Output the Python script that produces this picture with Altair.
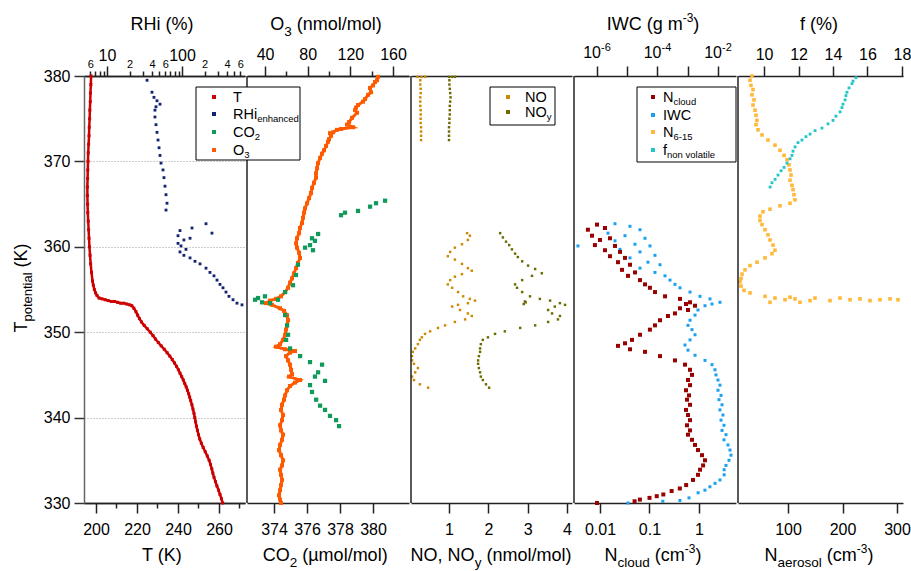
import altair as alt
import pandas as pd
import math

FONT = "Liberation Sans"
X0, Y0 = 84, 76          # page position of plot origin
W, H = 819, 427          # plot area

# ---------------- data (potential temperature in K) ----------------
theta_T = [380.0,379.0,378.0,377.0,376.0,375.0,374.0,373.0,372.0,371.0,370.0,369.0,368.0,367.0,366.0,365.0,364.0,363.0,362.0,361.0,360.0,359.0,358.0,357.0,356.0,355.5,355.0,354.6,354.3,354.0,353.9,353.8,353.7,353.6,353.6,353.5,353.4,353.4,353.3,353.2,353.1,352.8,352.4,352.0,351.6,351.2,350.8,350.4,350.0,349.6,349.2,348.8,348.4,348.0,347.6,347.2,346.8,346.4,346.0,345.6,345.2,344.8,344.4,344.0,343.6,343.2,342.8,342.4,342.0,341.5,341.0,340.5,340.0,339.5,339.0,338.5,338.0,337.5,337.0,336.5,336.0,335.5,335.0,334.5,334.0,333.5,333.0,332.5,332.0,331.5,331.0,330.5,330.0]
T_K = [197.6,197.5,197.3,197.2,197.0,196.9,196.7,196.6,196.4,196.2,196.1,196.0,195.9,195.8,195.8,195.9,196.0,196.2,196.4,196.6,196.8,197.1,197.4,197.8,198.3,198.7,199.2,199.8,200.5,201.5,203.0,204.5,206.0,207.5,209.0,210.5,212.0,213.5,215.0,216.5,217.5,218.5,219.5,220.3,221.2,222.2,223.5,225.0,226.5,227.8,229.0,230.4,231.8,233.3,234.7,236.0,237.2,238.3,239.3,240.2,241.0,241.8,242.6,243.3,244.0,244.6,245.2,245.7,246.2,246.8,247.3,247.8,248.2,248.6,249.0,249.5,250.0,250.6,251.4,252.3,253.3,254.3,255.2,255.9,256.5,257.0,257.6,258.3,259.0,259.8,260.5,261.2,261.8]

theta_RHi = [379.5,378.1,377.5,377.1,376.7,376.4,376.0,375.2,374.3,373.4,372.5,371.6,370.7,369.8,369.0,368.1,367.1,366.1,365.1,364.3,362.7,362.2,361.9,361.6,361.3,361.0,360.8,360.4,360.1,359.7,359.4,359.0,358.7,358.3,358.0,357.5,357.0,356.6,356.1,355.6,355.2,354.7,354.2,353.8,353.4,353.2]
RHi = [34.2,39.8,42.3,46.4,50.9,45.0,43.6,43.6,45.0,46.4,47.9,49.4,50.9,52.5,55.8,57.5,59.3,61.2,63.1,61.2,209,136,94,251,88.5,128,106,88.5,97,113,94,106,128,149,174,209,236,267,293,321,352,386,423,479,541,631]

theta_O3 = [379.9,379.5,379.3,378.9,378.6,378.1,377.8,377.3,377.0,376.6,376.3,376.0,375.7,375.1,374.6,374.3,374.0,373.8,373.7,373.4,373.3,373.0,372.6,372.3,371.8,371.3,370.9,370.4,369.8,369.2,368.6,368.1,367.5,366.9,366.3,365.7,365.1,364.5,364.0,363.4,362.8,362.2,361.6,361.0,360.4,359.9,359.3,358.7,358.1,357.5,356.9,356.3,355.8,355.2,354.7,354.2,353.9,353.7,353.4,353.2,352.8,352.5,352.0,351.4,350.8,350.3,349.7,349.1,348.6,348.3,348.0,347.8,347.6,347.2,346.7,346.2,345.6,345.1,344.8,344.4,344.1,343.7,343.2,342.6,342.1,341.5,340.9,340.3,339.7,339.1,338.5,338.0,337.4,336.8,336.2,335.6,335.0,334.4,333.9,333.3,332.7,332.1,331.5,330.9,330.4,330.0]
O3 = [145.9,145.0,143.1,141.3,138.4,139.4,136.6,133.8,131.9,127.2,125.3,124.4,126.3,121.6,118.8,116.9,122.5,111.3,107.5,103.8,100.9,101.9,100.0,99.1,97.2,95.3,93.4,91.6,89.7,88.8,87.8,87.8,85.9,84.1,83.1,81.3,79.4,77.5,76.6,75.6,74.7,72.8,71.9,70.0,69.1,70.0,71.9,72.8,70.9,69.1,67.2,65.3,63.4,61.6,58.8,55.0,50.3,44.7,40.9,46.6,54.1,57.8,60.6,61.6,60.6,59.7,58.8,56.9,54.1,50.3,58.8,68.1,63.4,59.7,61.6,63.4,64.4,65.3,62.5,72.8,68.1,63.4,60.6,58.8,57.8,55.9,55.0,56.9,55.9,54.1,55.0,56.9,55.9,54.1,53.1,55.0,56.9,55.9,54.1,55.0,55.9,55.0,54.1,53.1,54.1,55.0]

theta_CO2 = [365.4,365.1,364.7,364.2,364.0,363.7,361.5,361.0,360.7,360.2,359.9,359.6,357.9,356.7,355.5,354.7,354.2,354.0,353.8,353.5,353.4,353.8,352.0,350.8,349.7,349.1,348.1,347.2,346.5,346.2,345.3,344.8,344.3,343.8,343.0,342.1,341.4,340.9,340.2,339.7,339.0]
CO2 = [380.73,380.18,379.82,379.09,378.30,378.06,376.67,376.30,376.48,376.18,375.88,376.36,375.45,375.33,375.15,374.67,373.45,373.03,372.85,373.27,373.76,374.24,374.67,374.79,374.85,374.73,374.97,375.58,376.18,376.91,376.67,376.48,377.09,376.18,376.30,376.55,376.79,377.09,377.39,377.76,377.94]

theta_NO = [379.9,379.9,379.9,379.5,379.0,378.5,378.0,377.5,377.0,376.5,376.0,375.5,375.0,374.5,374.0,373.5,373.0,372.5,
            361.6,361.3,360.8,360.3,359.9,359.4,358.9,358.5,358.0,357.5,357.2,356.8,356.5,356.1,355.6,355.2,354.7,354.2,353.9,353.7,353.4,353.2,353.0,352.6,352.2,351.9,351.5,351.2,350.8,350.5,350.1,349.8,349.4,349.1,348.6,348.1,347.7,347.2,346.7,346.3,345.8,345.3,344.8,344.4,343.9,343.5]
NO = [0.20,0.30,0.40,0.27,0.27,0.28,0.28,0.27,0.27,0.27,0.28,0.28,0.28,0.28,0.29,0.29,0.29,0.29,
      1.46,1.53,1.48,1.33,1.15,1.03,0.97,1.15,1.33,1.48,1.58,1.33,1.15,1.03,0.97,1.08,1.23,1.36,1.53,1.66,1.48,1.23,1.08,1.28,1.48,1.58,1.41,1.15,0.90,0.72,0.52,0.39,0.31,0.26,0.21,0.14,0.08,0.06,0.06,0.11,0.21,0.14,0.06,0.11,0.26,0.47]

theta_NOy = [379.9,379.9,379.9,379.5,379.0,378.5,378.0,377.5,377.0,376.5,376.0,375.5,375.0,374.5,374.0,373.5,373.0,372.5,
             361.6,361.1,360.6,360.2,359.7,359.2,358.8,358.3,357.8,357.4,356.9,356.6,356.1,355.6,355.2,354.7,354.2,353.9,353.7,353.4,353.2,353.0,352.6,352.2,351.9,351.5,351.2,350.8,350.5,350.1,349.8,349.4,349.1,348.6,348.1,347.7,347.2,346.7,346.3,345.8,345.3,344.8,344.4,343.9,343.5,353.6,353.5,353.3]
NOy = [1.00,1.08,1.15,1.01,1.01,1.02,1.03,1.04,1.03,1.02,1.02,1.02,1.01,1.01,1.00,1.00,1.00,1.00,
       2.30,2.37,2.45,2.53,2.60,2.68,2.75,2.86,3.01,3.19,3.36,3.11,2.86,2.68,2.73,2.86,3.06,3.31,3.57,3.82,3.95,3.69,3.52,3.62,3.82,3.77,3.52,3.19,2.81,2.42,2.17,1.99,1.86,1.81,1.79,1.79,1.76,1.74,1.74,1.76,1.79,1.81,1.86,1.94,2.02,2.93,2.95,2.90]

theta_Nc = [362.6,362.2,362.0,361.3,361.0,360.8,360.2,360.1,359.6,359.4,358.9,358.7,358.2,357.9,357.3,357.0,356.6,356.1,355.6,355.2,354.7,354.2,353.9,353.5,353.3,353.1,352.8,352.6,352.2,351.9,351.4,350.8,350.3,349.7,349.1,348.7,348.4,348.0,347.7,347.2,346.7,346.2,345.6,345.0,344.4,343.8,343.2,342.6,342.1,341.5,340.9,340.3,339.7,339.1,338.5,338.0,337.4,336.8,336.2,335.6,335.0,334.4,333.9,333.3,332.7,332.1,331.7,331.4,331.0,330.8,330.6,330.4,330.2,330.0]
N_cloud = [0.0087,0.0126,0.0057,0.0069,0.0159,0.0100,0.0079,0.0201,0.0126,0.0254,0.0159,0.0320,0.0231,0.0404,0.0278,0.0509,0.0368,0.0643,0.0811,0.102,0.129,0.206,0.413,0.658,0.546,0.830,0.413,0.600,0.327,0.236,0.163,0.129,0.102,0.0643,0.0443,0.0320,0.0231,0.0404,0.0811,0.163,0.327,0.521,0.658,0.722,0.600,0.658,0.546,0.628,0.573,0.658,0.546,0.600,0.658,0.573,0.658,0.600,0.722,0.830,0.955,1.15,1.32,1.21,1.05,0.955,0.757,0.55,0.41,0.28,0.19,0.14,0.10,0.064,0.05,0.0087]

theta_IWC = [362.7,362.4,362.0,361.6,361.3,361.0,360.7,360.3,360.1,360.1,359.7,359.4,359.0,358.7,358.2,357.9,357.5,357.0,356.6,356.1,355.6,355.2,354.7,354.2,353.9,353.5,353.3,353.1,352.6,352.0,351.4,350.8,350.3,349.7,349.1,348.5,347.9,347.3,346.7,346.2,345.6,345.0,344.4,343.8,343.2,342.6,342.1,341.5,340.9,340.3,339.7,339.1,338.5,338.0,337.4,336.8,336.2,335.6,335.0,334.4,333.9,333.3,332.7,332.3,331.9,331.5,331.2,330.6,330.3,330.2,330.0]
IWC = [3.94e-6,1.23e-5,2.64e-5,2.31e-6,8.43e-6,3.86e-5,3.94e-6,1.80e-5,5.65e-5,2.35e-7,5.75e-6,2.64e-5,8.26e-5,1.23e-5,4.85e-5,1.21e-4,2.64e-5,8.26e-5,1.77e-4,2.59e-4,3.79e-4,5.55e-4,1.19e-3,2.54e-3,5.44e-3,1.16e-2,6.34e-3,3.72e-3,2.18e-3,1.74e-3,1.19e-3,1.02e-3,1.38e-3,1.74e-3,1.19e-3,8.11e-4,1.02e-3,1.74e-3,3.72e-3,6.34e-3,7.96e-3,8.59e-3,1.0e-2,1.16e-2,1.0e-2,1.26e-2,1.08e-2,1.36e-2,1.16e-2,1.46e-2,1.26e-2,1.58e-2,1.36e-2,1.84e-2,1.58e-2,2.14e-2,2.49e-2,2.69e-2,2.31e-2,1.84e-2,1.6e-2,1.6e-2,1.16e-2,8.0e-3,5.4e-3,3.7e-3,2.2e-3,1.1e-3,5.5e-4,1.5e-4,1.06e-5]

theta_N615 = [380.0,379.5,378.9,378.4,377.8,377.2,376.6,376.0,375.4,374.8,374.3,373.7,373.1,372.5,371.9,371.3,370.7,370.2,369.6,369.0,368.4,367.8,367.2,366.7,366.1,365.5,365.1,364.8,364.4,364.1,363.6,363.1,362.6,362.0,361.4,360.8,360.2,359.6,359.2,358.7,358.2,357.8,357.3,356.8,356.3,355.9,355.4,354.9,354.6,354.2,354.1,354.0,354.0,353.9,353.8,353.8,353.5,353.7,353.5,354.0,353.8,353.9,353.7,353.8,353.7,353.9]
N_615 = [33.9,30.3,32.1,35.8,33.9,37.6,35.8,39.4,41.3,43.1,41.3,45.0,52.3,63.3,76.1,85.3,92.7,98.2,101.8,103.7,105.5,103.7,107.3,109.2,111.0,112.8,103.7,85.3,67.0,54.1,48.6,48.6,52.3,57.8,63.3,67.0,72.5,76.1,70.6,57.8,43.1,30.3,21.1,15.6,13.8,11.9,13.8,19.3,30.3,57.8,103.7,149.5,195.4,232.1,268.8,301.8,122.0,177.1,67.0,76.1,94.5,112.8,140.4,213.8,250.5,287.2]

theta_f = [379.8,379.4,379.1,378.6,378.1,377.7,377.2,376.7,376.3,375.8,375.3,374.8,374.4,373.9,373.6,373.2,372.9,372.5,372.2,371.7,371.2,370.7,370.3,369.8,369.3,368.9,368.4,367.9,367.5,367.0]
f_nonvol = [15.33,15.16,15.10,14.93,14.81,14.75,14.70,14.58,14.52,14.41,14.17,14.00,13.71,13.36,12.96,12.67,12.43,12.20,11.97,11.80,11.68,11.62,11.51,11.33,11.16,10.99,10.81,10.64,10.46,10.35]

# tick values / labels
T_major = [200, 220, 240, 260]
T_minor = [210, 230, 250, 270]
RHi_major = [10, 100]
RHi_minor = [6, 7, 8, 9, 20, 30, 40, 50, 60, 70, 80, 90, 200, 300, 400, 500, 600]
O3_major = [40, 80, 120, 160]
O3_minor = [60, 100, 140]
CO2_ticks = [374, 376, 378, 380]
NO_ticks = [1, 2, 3, 4]
Nc_ticks = [0.01, 0.1, 1]
IWC_ticks = [1e-6, 1e-5, 1e-4, 1e-3, 1e-2]
IWC_labels = [(1e-6, "-6"), (1e-4, "-4"), (1e-2, "-2")]
Na_ticks = [100, 200, 300]
f_ticks = [10, 12, 14, 16, 18]

# colours
C_T, C_RHi, C_CO2, C_O3 = "#cc0000", "#14236e", "#0f9a5a", "#ff5a00"
C_NO, C_NOy = "#cc8a00", "#6b6b00"
C_Nc, C_IWC, C_N615, C_f = "#990000", "#1aa0f0", "#ffb83a", "#20c6c8"

# panel ranges (view px) and scale domains
P1, P2, P3, P4, P5 = [0, 161], [163, 325], [327, 488], [490, 652], [654, 819]
D_T, D_RHi = [194.15, 272.7], [4.935, 692.0]
D_CO2, D_O3 = [372.36, 382.18], [23.1, 175.0]
D_NO = [0.034, 4.127]
D_Nc, D_IWC = [0.002985, 5.59], [1.738e-7, 0.0394]
D_Na, D_f = [8.26, 311.0], [8.49, 18.06]

dummy = pd.DataFrame({"d": [0]})


def frame(th, v):
    return pd.DataFrame({"theta": th, "v": v, "i": list(range(len(th)))})


yaxis = alt.Axis(values=[330, 340, 350, 360, 370, 380], title=None, tickSize=10, labelFontSize=16,
                 labelFont=FONT, labelPadding=4, labelColor="black", grid=True, gridDash=[1, 2],
                 gridColor="#9a9a9a", gridWidth=1, domainColor="#666666", domainWidth=1.5,
                 tickColor="#333333", tickWidth=1.5)
Y = alt.Y("theta:Q", scale=alt.Scale(domain=[330, 380], nice=False, zero=False), axis=yaxis)


def xaxis(orient, values, tick=10, labels=True, size=16, pad=5, expr=None, ticks=True):
    kw = dict(orient=orient, values=values, title=None, tickSize=tick, labels=labels, ticks=ticks,
              labelFontSize=size, labelFont=FONT, labelPadding=pad, labelOverlap=False,
              labelFlush=False, labelColor="black", grid=False, domainColor="#222222",
              domainWidth=1.5, tickColor="#222222", tickWidth=1.5)
    if expr:
        kw["labelExpr"] = expr
    return alt.Axis(**kw)


def xscale(dom, rng, log=False):
    if log:
        return alt.Scale(type="log", domain=dom, range=rng, nice=False)
    return alt.Scale(type="linear", domain=dom, range=rng, nice=False, zero=False)


def pts(data, dom, rng, axis, color, size, log=False, opacity=1.0):
    return alt.Chart(data).mark_square(size=size, color=color, opacity=opacity).encode(
        x=alt.X("v:Q", scale=xscale(dom, rng, log), axis=axis), y=Y)


def trace(data, dom, rng, color, width):
    return alt.Chart(data).mark_line(color=color, strokeWidth=width).encode(
        x=alt.X("v:Q", scale=xscale(dom, rng), axis=None), y=Y, order=alt.Order("i:Q"))


def txt(px, py, s, fs, angle=0, align="left"):
    return alt.Chart(dummy).mark_text(text=s, fontSize=fs, font=FONT, align=align,
                                      baseline="alphabetic", angle=angle, color="black").encode(
        x=alt.value(px - X0), y=alt.value(py - Y0))


AW = {" ": .278, "(": .333, ")": .333, ",": .278, "/": .278, "-": .333, ".": .278, "%": .889,
      "a": .556, "b": .556, "c": .5, "d": .556, "e": .556, "f": .278, "g": .556, "h": .556,
      "i": .222, "k": .5, "l": .222, "m": .833, "n": .556, "o": .556, "p": .556, "r": .333,
      "s": .5, "t": .278, "u": .556, "v": .5, "y": .5, "C": .722, "H": .722, "I": .278,
      "K": .667, "N": .722, "O": .778, "R": .722, "T": .611, "W": .944, "µ": .556}


def tw(s, fs):
    return sum(AW.get(c, 0.556) for c in s) * fs


def rich(segs, anchor, base, size, sub, sup, subdy, supdy, mode="center", angle=0):
    items, adv = [], 0.0
    for s, k in segs:
        fs = {"n": size, "sub": sub, "sup": sup}[k]
        dy = {"n": 0, "sub": subdy, "sup": supdy}[k]
        lead = len(s) - len(s.lstrip(" "))
        adv += tw(" " * lead, fs)
        core = s.strip(" ")
        items.append((core, fs, dy, adv))
        adv += tw(core, fs) + tw(" " * (len(s) - lead - len(core)), fs)
    start = anchor - adv / 2 if mode == "center" else anchor
    out = []
    for core, fs, dy, a in items:
        if angle == 0:
            out.append(txt(start + a, base + dy, core, fs))
        else:
            out.append(txt(base + dy, anchor + adv / 2 - a, core, fs, angle=270))
    return out


def title(segs, cx, base):
    return rich(segs, cx, base, 18, 13.5, 12, 5.5, -8)


def leg_text(segs, x, base):
    return rich(segs, x, base, 14.5, 9.5, 9.5, 3, -6, mode="left")


layers = []

# panel 1
dT, dR = frame(theta_T, T_K), frame(theta_RHi, RHi)
layers.append(pts(dR, D_RHi, P1, xaxis("top", RHi_major, tick=10, pad=3), C_RHi, 8, log=True))
layers.append(pts(dR, D_RHi, P1, xaxis("top", RHi_minor, tick=5, size=11, pad=2,
              expr="datum.value==6||datum.value==60||datum.value==600?'6':datum.value==20||datum.value==200?'2':datum.value==40||datum.value==400?'4':''"),
              C_RHi, 8, log=True, opacity=0))
layers.append(trace(dT, D_T, P1, C_T, 2.5))
layers.append(pts(dT, D_T, P1, xaxis("bottom", T_major, pad=8), C_T, 9))
layers.append(pts(dT, D_T, P1, xaxis("bottom", T_minor, tick=5, labels=False), C_T, 9, opacity=0))

# panel 2
dO, dC = frame(theta_O3, O3), frame(theta_CO2, CO2)
layers.append(trace(dO, D_O3, P2, C_O3, 3))
layers.append(pts(dO, D_O3, P2, xaxis("top", O3_major, pad=4), C_O3, 16))
layers.append(pts(dO, D_O3, P2, xaxis("top", O3_minor, tick=5, labels=False), C_O3, 16, opacity=0))
layers.append(pts(dC, D_CO2, P2, xaxis("bottom", CO2_ticks, pad=8), C_CO2, 18))

# panel 3
dN, dNy = frame(theta_NO, NO), frame(theta_NOy, NOy)
layers.append(pts(dN, D_NO, P3, xaxis("bottom", NO_ticks, pad=8), C_NO, 6))
layers.append(pts(dNy, D_NO, P3, xaxis("top", [], labels=False, ticks=False), C_NOy, 6))

# panel 4
dI, dNc = frame(theta_IWC, IWC), frame(theta_Nc, N_cloud)
layers.append(pts(dI, D_IWC, P4, xaxis("top", IWC_ticks, labels=False), C_IWC, 9, log=True))
layers.append(pts(dNc, D_Nc, P4, xaxis("bottom", Nc_ticks, pad=8,
              expr="datum.value>0.5?'1':datum.value>0.05?'0.1':'0.01'"), C_Nc, 16, log=True))

# panel 5
dA, dF = frame(theta_N615, N_615), frame(theta_f, f_nonvol)
layers.append(pts(dA, D_Na, P5, xaxis("bottom", Na_ticks, pad=8), C_N615, 13))
layers.append(pts(dF, D_f, P5, xaxis("top", f_ticks, pad=4), C_f, 8))

# panel borders
for bx in [P2[0], P3[0], P4[0], P5[0]]:
    layers.append(alt.Chart(dummy).mark_rule(color="#222222", strokeWidth=1.5).encode(
        x=alt.value(bx), y=alt.value(0), y2=alt.value(H)))

# IWC top labels (10^n with raised exponent)
lo, hi = math.log10(D_IWC[0]), math.log10(D_IWC[1])
for v, e in IWC_labels:
    px = X0 + P4[0] + (math.log10(v) - lo) / (hi - lo) * (P4[1] - P4[0])
    layers += rich([("10", "n"), (e, "sup")], px, 58, 16, 11, 11, 0, -7)

# titles
layers += title([("RHi (%)", "n")], 162, 30)
layers += title([("O", "n"), ("3", "sub"), (" (nmol/mol)", "n")], 326, 30)
layers += title([("IWC (g m", "n"), ("-3", "sup"), (")", "n")], 653, 30)
layers += title([("f (%)", "n")], 819, 30)
layers += title([("T (K)", "n")], 162, 561)
layers += title([("CO", "n"), ("2", "sub"), (" (µmol/mol)", "n")], 325, 561)
layers += title([("NO, NO", "n"), ("y", "sub"), (" (nmol/mol)", "n")], 491, 561)
layers += title([("N", "n"), ("cloud", "sub"), (" (cm", "n"), ("-3", "sup"), (")", "n")], 653, 561)
layers += title([("N", "n"), ("aerosol", "sub"), (" (cm", "n"), ("-3", "sup"), (")", "n")], 819, 561)
layers += rich([("T", "n"), ("potential", "sub"), (" (K)", "n")], 288, 27, 18, 13, 12, 5, -8, angle=270)


# legends
def box(x1, y1, x2, y2):
    return alt.Chart(dummy).mark_rect(fill="white", stroke="black", strokeWidth=1).encode(
        x=alt.value(x1 - X0), x2=alt.value(x2 - X0), y=alt.value(y1 - Y0), y2=alt.value(y2 - Y0))


def marker(x, y, color):
    return alt.Chart(dummy).mark_square(size=16, color=color, opacity=1).encode(
        x=alt.value(x - X0), y=alt.value(y - Y0))


legends = [
    (196, 87, 300, 160, 214, 233, [
        ([("T", "n")], C_T, 97),
        ([("RHi", "n"), ("enhanced", "sub")], C_RHi, 114),
        ([("CO", "n"), ("2", "sub")], C_CO2, 132),
        ([("O", "n"), ("3", "sub")], C_O3, 150)]),
    (490, 87, 555, 125, 508, 525, [
        ([("NO", "n")], C_NO, 97),
        ([("NO", "n"), ("y", "sub")], C_NOy, 112)]),
    (637, 87, 736, 162, 653, 663, [
        ([("N", "n"), ("cloud", "sub")], C_Nc, 97),
        ([("IWC", "n")], C_IWC, 115),
        ([("N", "n"), ("6-15", "sub")], C_N615, 132),
        ([("f", "n"), ("non volatile", "sub")], C_f, 150)]),
]
for x1, y1, x2, y2, mx, tx, entries in legends:
    layers.append(box(x1, y1, x2, y2))
    for segs, col, my in entries:
        layers.append(marker(mx, my, col))
        layers += leg_text(segs, tx, my + 5)

chart = alt.layer(*layers).resolve_scale(x="independent").properties(
    width=W, height=H,
    autosize=alt.AutoSizeParams(type="none"),
    padding={"left": X0, "top": Y0, "right": 911 - X0 - W, "bottom": 571 - Y0 - H},
).configure_view(stroke=None)

chart.save("out.html", embed_options={"renderer": "svg", "actions": False})
